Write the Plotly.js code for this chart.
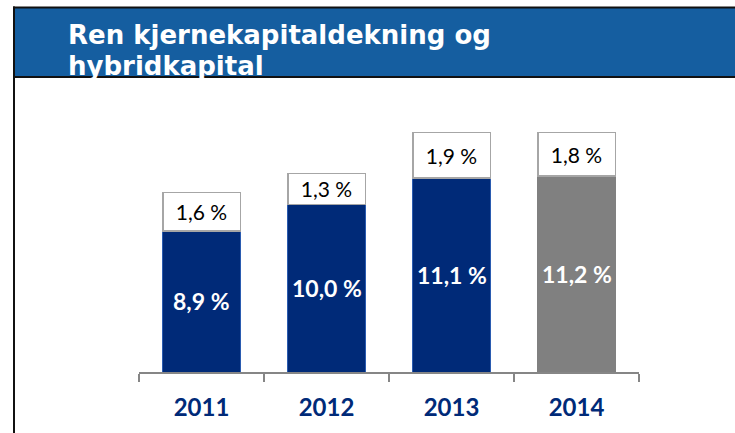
<!DOCTYPE html>
<html>
<head>
<meta charset="utf-8">
<script src="https://cdn.plot.ly/plotly-3.0.1.min.js"></script>
<style>html,body{margin:0;padding:0;background:#fff;}#chart{width:735px;height:433px;}</style>
</head>
<body>
<div id="chart"></div>
<script>
const years = ['2011', '2012', '2013', '2014'];
const coreCapital = [8.9, 10.0, 11.1, 11.2];
const hybridCapital = [1.6, 1.3, 1.9, 1.8];
const titleLines = ['Ren kjernekapitaldekning og', 'hybridkapital'];

const coreColors = ['#002A78', '#002A78', '#002A78', '#808080'];
const coreEdge = ['#2A5BB0', '#2A5BB0', '#2A5BB0', '#808080'];

function fmt(v) { return v.toFixed(1).replace('.', ',') + ' %'; }

const W = 735, H = 433;
const M = {l: 139, r: 96, t: 90, b: 61};
const pw = W - M.l - M.r, ph = H - M.t - M.b;
const px = x => (x - M.l) / pw;
const py = y => (H - M.b - y) / ph;
const Y_MIN = 3.0;

const traces = [
  {
    type: 'bar', x: years, y: coreCapital,
    textposition: 'none',
    marker: {color: coreColors, line: {color: coreEdge, width: 1}},
    hoverinfo: 'skip'
  },
  {
    type: 'bar', x: years, y: hybridCapital,
    text: hybridCapital.map(fmt), texttemplate: '%{text}',
    textposition: 'inside', insidetextanchor: 'middle',
    textfont: {family: 'Lato', size: 21, color: '#000000'},
    marker: {color: '#FFFFFF', line: {color: '#A6A6A6', width: 1.5}},
    hoverinfo: 'skip'
  }
];

const coreLabels = years.map((yr, i) => ({
  text: fmt(coreCapital[i]), xref: 'x', yref: 'y', x: i, y: (Y_MIN + coreCapital[i]) / 2,
  showarrow: false, xanchor: 'center', yanchor: 'middle',
  font: {family: 'Lato', size: 23, color: '#FFFFFF', weight: 'bold'}
}));

const layout = {
  width: W, height: H,
  margin: M,
  paper_bgcolor: '#FFFFFF', plot_bgcolor: 'rgba(0,0,0,0)',
  barmode: 'stack', bargap: 0.38,
  showlegend: false,
  xaxis: {
    type: 'category', categoryorder: 'array', categoryarray: years,
    range: [-0.5, years.length - 0.5],
    showline: true, linecolor: '#868686', linewidth: 1.5,
    ticks: 'outside', tickson: 'boundaries', ticklen: 8, tickcolor: '#868686', tickwidth: 1.5,
    tickfont: {family: 'Lato', size: 24, color: '#002A78', weight: 'bold'},
    ticklabelstandoff: 14,
    showgrid: false, zeroline: false, fixedrange: true
  },
  yaxis: {
    range: [Y_MIN, Y_MIN + ph / 23.93], visible: false, showgrid: false, zeroline: false, fixedrange: true
  },
  shapes: [
    {type: 'rect', xref: 'paper', yref: 'paper', x0: px(13), x1: px(736), y0: py(77), y1: py(7.5),
     fillcolor: '#155EA0', line: {width: 0}, layer: 'below'},
    {type: 'line', xref: 'paper', yref: 'paper', x0: px(13), x1: px(736), y0: py(7.5), y1: py(7.5),
     line: {color: '#111111', width: 2}},
    {type: 'line', xref: 'paper', yref: 'paper', x0: px(13), x1: px(736), y0: py(77), y1: py(77),
     line: {color: '#111111', width: 2}},
    {type: 'line', xref: 'paper', yref: 'paper', x0: px(14), x1: px(14), y0: py(6.5), y1: py(434),
     line: {color: '#111111', width: 2}}
  ],
  annotations: [
    {text: titleLines[0], xref: 'paper', yref: 'paper', x: px(66), y: py(35), xanchor: 'left', yanchor: 'middle',
     showarrow: false, font: {family: 'DejaVu Sans', size: 26, color: '#FFFFFF', weight: 'bold'}},
    {text: titleLines[1], xref: 'paper', yref: 'paper', x: px(66), y: py(66), xanchor: 'left', yanchor: 'middle',
     showarrow: false, font: {family: 'DejaVu Sans', size: 26, color: '#FFFFFF', weight: 'bold'}}
  ].concat(coreLabels)
};

Plotly.newPlot('chart', traces, layout, {displayModeBar: false, staticPlot: true});
</script>
</body>
</html>
